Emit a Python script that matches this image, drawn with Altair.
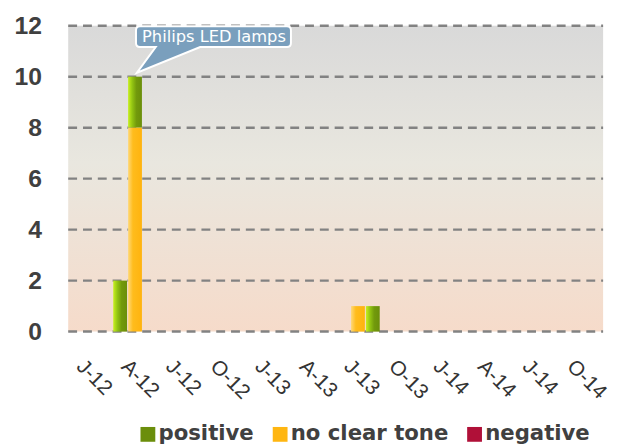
import altair as alt
import pandas as pd

# ---- data -------------------------------------------------------------
months = [
    "2012-01", "2012-02", "2012-03", "2012-04", "2012-05", "2012-06",
    "2012-07", "2012-08", "2012-09", "2012-10", "2012-11", "2012-12",
    "2013-01", "2013-02", "2013-03", "2013-04", "2013-05", "2013-06",
    "2013-07", "2013-08", "2013-09", "2013-10", "2013-11", "2013-12",
    "2014-01", "2014-02", "2014-03", "2014-04", "2014-05", "2014-06",
    "2014-07", "2014-08", "2014-09", "2014-10", "2014-11", "2014-12",
]
positive = [0, 0, 0, 2, 2, 0, 0, 0, 0, 0, 0, 0,
            0, 0, 0, 0, 0, 0, 0, 0, 1, 0, 0, 0,
            0, 0, 0, 0, 0, 0, 0, 0, 0, 0, 0, 0]
no_clear_tone = [0, 0, 0, 0, 8, 0, 0, 0, 0, 0, 0, 0,
                 0, 0, 0, 0, 0, 0, 0, 1, 0, 0, 0, 0,
                 0, 0, 0, 0, 0, 0, 0, 0, 0, 0, 0, 0]
negative = [0, 0, 0, 0, 0, 0, 0, 0, 0, 0, 0, 0,
            0, 0, 0, 0, 0, 0, 0, 0, 0, 0, 0, 0,
            0, 0, 0, 0, 0, 0, 0, 0, 0, 0, 0, 0]

series_names = ["positive", "no clear tone", "negative"]
stack_order = ["no clear tone", "positive", "negative"]
series_colors = ["#6b8e0b", "#ffb611", "#b01038"]

axis_months = ["2012-01", "2012-04", "2012-07", "2012-10",
               "2013-01", "2013-04", "2013-07", "2013-10",
               "2014-01", "2014-04", "2014-07", "2014-10"]
y_ticks = [0, 2, 4, 6, 8, 10, 12]

annotation_text = ["Philips LED lamps"]
annotation_month = ["2012-05"]
annotation_value = [10]

# ---- tables -----------------------------------------------------------
rows = []
for name, vals in zip(series_names, [positive, no_clear_tone, negative]):
    for m, v in zip(months, vals):
        rows.append({"month": m, "series": name, "value": v,
                     "order": stack_order.index(name)})
df = pd.DataFrame(rows)
ann = pd.DataFrame({"month": annotation_month, "value": annotation_value,
                    "text": annotation_text})
grid_df = pd.DataFrame({"tick": y_ticks})
one_row = pd.DataFrame({"a": [0]})

W, H = 542, 310

x_enc = alt.X("month:O",
              scale=alt.Scale(domain=months, paddingInner=0.07, paddingOuter=0.03),
              axis=alt.Axis(values=axis_months,
                            labelExpr="substring('JFMAMJJASOND', toNumber(substring(datum.value,5,7))-1, toNumber(substring(datum.value,5,7))) + '-' + substring(datum.value,2,4)",
                            labelAngle=45, labelAlign="left", labelBaseline="alphabetic",
                            labelPadding=36, ticks=False, domain=False, grid=False,
                            labelFont="Liberation Sans", labelFontSize=21,
                            labelColor="#333333", labelBound=False, labelFlush=False,
                            labelOverlap=False, title=None))
y_scale = alt.Scale(domain=[0, 12], nice=False)


def grad(stops, vertical=False):
    return alt.LinearGradient(
        gradient="linear", x1=0, x2=0 if vertical else 1, y1=0,
        y2=1 if vertical else 0,
        stops=[alt.GradientStop(color=c, offset=o) for o, c in stops])


bar_fills = {
    "positive": grad([(0, "#c8f020"), (0.3, "#92c412"), (0.6, "#729a0c"), (1, "#6a8e0a")]),
    "no clear tone": grad([(0, "#ffd878"), (0.35, "#ffbc1c"), (1, "#ffb30e")]),
    "negative": grad([(0, "#d8304f"), (0.4, "#b41040"), (1, "#a50c36")]),
}
bg_fill = grad([(0, "#d9d9d9"), (0.45, "#e9e7df"), (1, "#f6dbca")], vertical=True)

layers = []
# plot-area background
layers.append(
    alt.Chart(one_row).mark_rect(color=bg_fill).encode(
        x=alt.value(0), x2=alt.value(W), y=alt.value(0), y2=alt.value(H))
)
# dashed gridlines
layers.append(
    alt.Chart(grid_df).mark_rule(color="#828282", strokeWidth=2.5,
                                 strokeDash=[9, 6]).encode(
        y=alt.Y("tick:Q", scale=y_scale), x=alt.value(0), x2=alt.value(W))
)
# invisible layer that provides axes + legend
layers.append(
    alt.Chart(df).mark_square(opacity=0, size=225).encode(
        x=x_enc,
        y=alt.Y("value:Q", scale=y_scale,
                axis=alt.Axis(values=y_ticks, ticks=False, domain=False,
                              labelPadding=27, labelFont="Liberation Sans",
                              labelFontWeight="bold", labelFontSize=25,
                              labelColor="#404040", grid=False, title=None)),
        color=alt.Color("series:N",
                        scale=alt.Scale(domain=series_names, range=series_colors),
                        sort=series_names,
                        legend=alt.Legend(orient="none", legendX=70, legendY=403,
                                          direction="horizontal", title=None,
                                          symbolType="square", symbolSize=225,
                                          symbolOpacity=1, symbolStrokeWidth=0,
                                          labelFont="DejaVu Sans",
                                          labelFontWeight="bold",
                                          labelFontSize=21.5,
                                          labelColor="#404040",
                                          labelOffset=0, columnPadding=15,
                                          labelLimit=400, padding=0)),
    )
)
base = alt.Chart(df).transform_stack(
    stack="value", groupby=["month"], as_=["y0", "y1"],
    sort=[alt.SortField("order", order="ascending")])
for name in series_names:
    layers.append(
        base.transform_filter(alt.datum.series == name)
        .mark_bar(color=bar_fills[name])
        .encode(x=alt.X("month:O"), y=alt.Y("y0:Q", scale=y_scale), y2="y1:Q")
    )

callout_path = ("M 2,-4 L 21,-30 L 5,-30 Q 1,-30 1,-34 L 1,-47 Q 1,-51 5,-51 "
                "L 154,-51 Q 158,-51 158,-47 L 158,-34 Q 158,-30 154,-30 L 66,-30 Z")
layers.append(
    alt.Chart(ann).mark_point(shape=callout_path, size=4, filled=True,
                              fill="#7a9fbd", stroke="white", strokeWidth=2,
                              opacity=1)
    .encode(x=alt.X("month:O"), y=alt.Y("value:Q", scale=y_scale))
)
layers.append(
    alt.Chart(ann).mark_text(dx=80, dy=-40, color="white", font="DejaVu Sans",
                             fontSize=16.5, align="center", baseline="middle")
    .encode(x=alt.X("month:O"), y=alt.Y("value:Q", scale=y_scale), text="text:N")
)

chart = alt.layer(*layers).properties(
    width=W, height=H,
    autosize=alt.AutoSizeParams(type="none"),
    padding={"left": 61, "top": 15, "right": 8, "bottom": 112},
    background="white",
).configure_view(stroke=None)

chart.save("out.html", embed_options={"renderer": "svg", "actions": False})
